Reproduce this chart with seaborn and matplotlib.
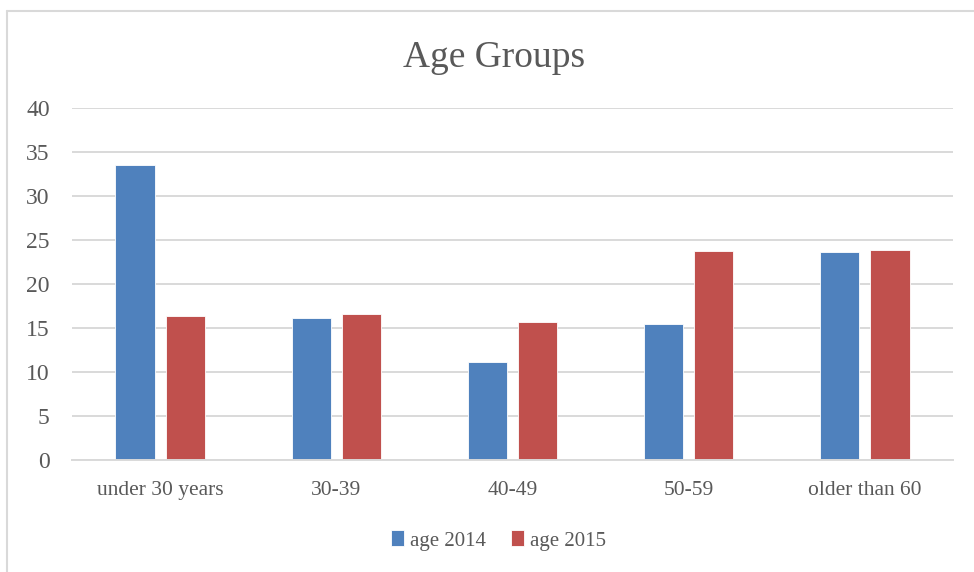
import numpy as np
import pandas as pd
import matplotlib
matplotlib.use("Agg")
import matplotlib.pyplot as plt
from matplotlib.lines import Line2D
import seaborn as sns

# data
categories = ["under 30 years", "30-39", "40-49", "50-59", "older than 60"]
age_2014 = [33.5, 16.1, 11.1, 15.4, 23.6]
age_2015 = [16.4, 16.6, 15.7, 23.7, 23.9]
series = ["age 2014", "age 2015"]
colors = ["#4F81BD", "#C0504D"]

df = pd.DataFrame({
    "group": categories * 2,
    "value": age_2014 + age_2015,
    "series": [series[0]] * len(categories) + [series[1]] * len(categories),
})

sns.set_theme(style="white")
plt.rcParams["font.family"] = ["Liberation Serif", "DejaVu Serif"]

fig = plt.figure(figsize=(9.74, 5.72), dpi=100)
ax = fig.add_axes([0.0739, 0.196, 0.9045, 0.615])

sns.barplot(data=df, x="group", y="value", hue="series", order=categories,
            hue_order=series, palette=colors, saturation=1, width=0.57,
            gap=0.22, edgecolor="white", linewidth=0.6, ax=ax, legend=True)

ax.set_ylim(0, 40)
ax.set_yticks(range(0, 41, 5))
ax.set_xlim(-0.5, len(categories) - 0.5)
ax.yaxis.grid(True, color="#D9D9D9", linewidth=1.4)
ax.set_axisbelow(True)
for s in ["top", "right", "left"]:
    ax.spines[s].set_visible(False)
ax.spines["bottom"].set_color("#D9D9D9")
ax.spines["bottom"].set_linewidth(1.4)
ax.tick_params(axis="both", length=0)
ax.tick_params(axis="y", labelsize=17, labelcolor="#595959", pad=16)
ax.tick_params(axis="x", labelsize=15.5, labelcolor="#595959", pad=15)
ax.set_xlabel("")
ax.set_ylabel("")

fig.suptitle("Age Groups", x=0.507, y=0.93, fontsize=27, color="#595959")

handles, labels = ax.get_legend_handles_labels()
ax.legend(handles, labels, loc="center", bbox_to_anchor=(0.512, 0.055),
          bbox_transform=fig.transFigure, ncol=2, frameon=False,
          fontsize=15, labelcolor="#595959", handlelength=0.6,
          handleheight=0.8, handletextpad=0.3, columnspacing=1.2)

# light chart-area border (left and top edges visible)
fig.add_artist(Line2D([7 / 974, 7 / 974], [0, 1 - 11 / 572],
                      transform=fig.transFigure, color="#D9D9D9", linewidth=1.5))
fig.add_artist(Line2D([7 / 974, 1], [1 - 11 / 572, 1 - 11 / 572],
                      transform=fig.transFigure, color="#D9D9D9", linewidth=1.5))

fig.savefig("out.png", dpi=100, facecolor="white")
